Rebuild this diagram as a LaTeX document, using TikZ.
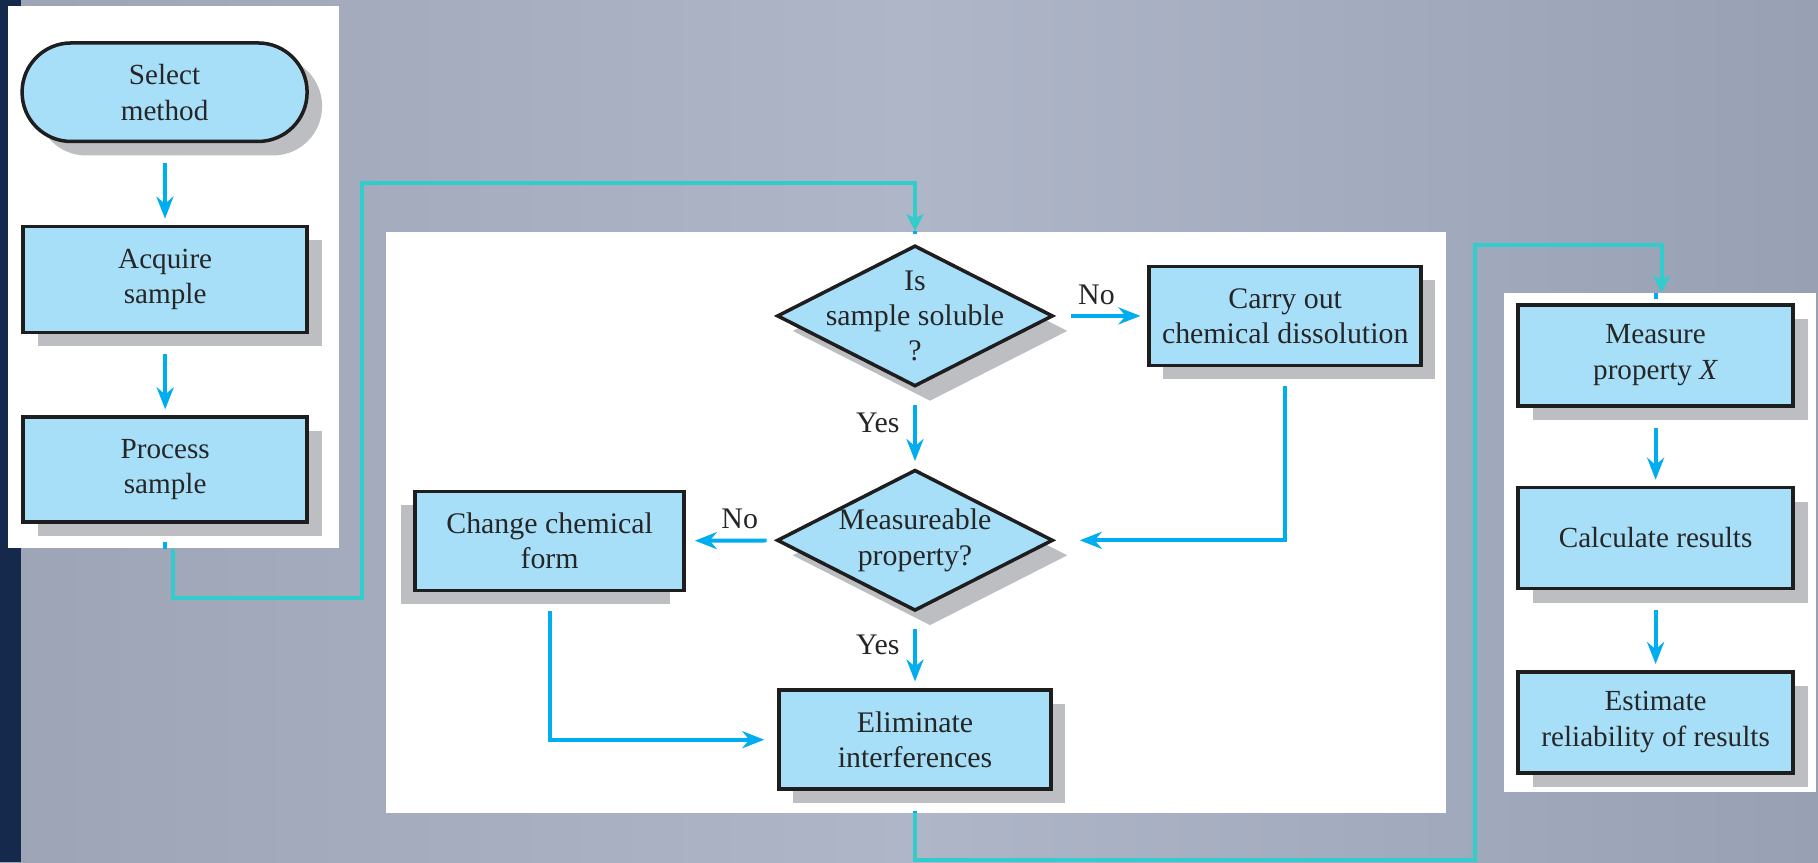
\documentclass[tikz,border=0pt]{standalone}
\usepackage{fontspec}
\setmainfont{Liberation Serif}
\usetikzlibrary{arrows.meta,positioning,shapes.geometric,shadows,calc}
\definecolor{bgleft}{HTML}{9CA4B6}
\definecolor{bgmid}{HTML}{AEB6C8}
\definecolor{bgright}{HTML}{98A1B4}
\definecolor{navy}{HTML}{14294B}
\definecolor{boxfill}{HTML}{A8DFF8}
\definecolor{boxline}{HTML}{1E1E1E}
\definecolor{shadowgray}{HTML}{BDBEC2}
\definecolor{flowblue}{HTML}{00ADEF}
\definecolor{linkcyan}{HTML}{33CCCC}
\newcommand\sidefont{\fontsize{8.3}{10.2}\selectfont}
\newcommand\midfont{\fontsize{8.5}{10}\selectfont}

\begin{document}
\begin{tikzpicture}[
  panel/.style={fill=white, draw=none, inner sep=0pt},
  card/.style={draw=boxline, line width=1pt, fill=boxfill, text=black!85, align=center, inner sep=0pt,
    minimum width=2.75cm, minimum height=1.01cm,
    drop shadow={shadow xshift=#1, shadow yshift=-0.14cm, fill=shadowgray, opacity=1}},
  card/.default=0.15cm,
  side/.style={card, font=\sidefont},
  mid/.style={card=#1, font=\midfont, minimum width=2.72cm, minimum height=0.99cm},
  mid/.default=0.14cm,
  term/.style={side, rounded corners=0.49cm, minimum width=2.85cm, minimum height=0.985cm},
  query/.style={diamond, draw=boxline, line width=1pt, fill=boxfill, text=black!85, align=center, font=\midfont,
    minimum width=2.76cm, minimum height=1.41cm, inner xsep=-0.55cm, inner ysep=-0.4cm,
    drop shadow={shadow xshift=0.15cm, shadow yshift=-0.15cm, fill=shadowgray, opacity=1}},
  flow/.style={-{Stealth[length=2.2mm, width=1.7mm]}, flowblue, line width=1.1pt, shorten <=0.2cm, shorten >=0.06cm},
  stub/.style={flowblue, line width=1.1pt},
  link/.style={-{Stealth[length=1.7mm, width=1.7mm, inset=0.4mm]}, linkcyan, line width=1.1pt},
  tag/.style={font=\midfont, text=black!85, inner sep=1pt},
]
  \useasboundingbox (0,0) rectangle (18.18,-8.62);
  \shade[left color=bgleft, right color=bgright, middle color=bgmid] (0,0) rectangle (18.18,-8.62);
  \fill[navy] (0,0) rectangle (0.21,-8.62);

  \node[panel, minimum width=3.305cm, minimum height=5.426cm] (leftpanel) at (1.734,-2.771) {};
  \node[panel, minimum width=10.597cm, minimum height=5.808cm] (midpanel) at (9.16,-5.223) {};
  \node[panel, minimum width=3.119cm, minimum height=4.986cm] (rightpanel) at (16.597,-5.426) {};

  \node[term] (select) at (1.646,-0.922) {Select\\method};
  \node[side, minimum width=2.84cm, minimum height=1.06cm] (acquire) at (1.652,-2.794) {Acquire\\sample};
  \node[side, minimum width=2.84cm, minimum height=1.05cm] (process) at (1.652,-4.696) {Process\\sample};

  \node[query] (soluble) at (9.15,-3.159) {Is\\sample soluble\\?};
  \node[mid] (carry) at (12.852,-3.159) {Carry out\\chemical dissolution};
  \node[query] (measurable) at (9.15,-5.403) {Measureable\\property?};
  \node[mid=-0.14cm, minimum width=2.69cm] (change) at (5.496,-5.409) {Change chemical\\form};
  \node[mid] (elim) at (9.15,-7.397) {Eliminate\\interferences};

  \node[side] (measure) at (16.556,-3.554) {Measure\\property \textit{X}};
  \node[side] (calc) at (16.556,-5.380) {Calculate results};
  \node[side] (estimate) at (16.556,-7.223) {Estimate\\reliability of results};

  \draw[flow] (select) -- (acquire);
  \draw[flow] (acquire) -- (process);
  \draw[flow, shorten <=0.16cm, shorten >=0.07cm] (soluble) -- node[tag, above=0.06cm, pos=0.45] {No} (carry);
  \draw[flow, shorten <=0.17cm, shorten >=0.07cm] (soluble) -- node[tag, left=0.1cm, pos=0.43] {Yes} (measurable);
  \draw[flow, shorten <=0.19cm, shorten >=0.25cm] (carry) |- (measurable);
  \draw[flow, shorten <=0.09cm, shorten >=0.09cm] (measurable) -- node[tag, above=0.06cm, pos=0.4] {No} (change);
  \draw[flow, shorten <=0.19cm, shorten >=0.13cm] (change) |- (elim);
  \draw[flow, shorten <=0.16cm, shorten >=0.07cm] (measurable) -- node[tag, left=0.1cm, pos=0.42] {Yes} (elim);
  \draw[flow] (measure) -- (calc);
  \draw[flow] (calc) -- (estimate);

  \coordinate (leftout) at (process.south |- leftpanel.south);
  \coordinate (midout) at (elim.south |- midpanel.south);
  \coordinate (riseA) at (3.617,-1.832);
  \coordinate (riseB) at (14.748,-2.446);

  \draw[stub, shorten <=0.18cm] (process.south) -- (leftout);
  \draw[link] ([xshift=0.08cm]leftout) -- ++(0,-0.49) -| (riseA) -| (soluble.north |- midpanel.north);
  \draw[stub, shorten >=0.1cm] (soluble.north |- midpanel.north) -- (soluble.north);

  \draw[stub, shorten <=0.2cm] (elim.south) -- (midout);
  \draw[link] (midout) -- ++(0,-0.465) -| (riseB) -| ([xshift=0.06cm]measure.north |- rightpanel.north);
  \draw[stub, shorten >=0.04cm] (measure.north |- rightpanel.north) -- (measure.north);
\end{tikzpicture}
\end{document}
